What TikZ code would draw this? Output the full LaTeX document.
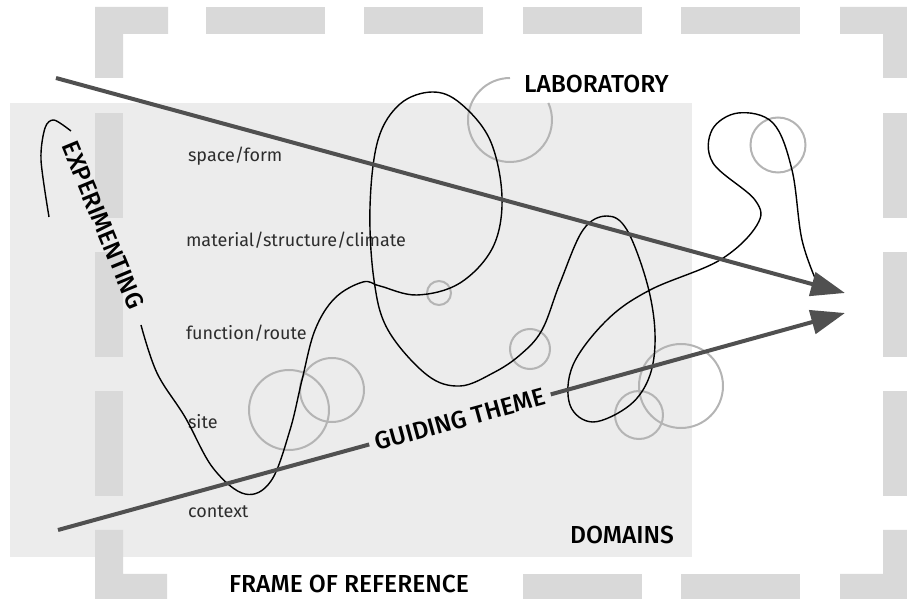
\documentclass[tikz,border=0pt]{standalone}
\usepackage{fontspec}
\setmainfont{Fira Sans}
\newfontfamily\capsfont{Fira Sans Medium}
\usetikzlibrary{arrows.meta}
\definecolor{boxgray}{RGB}{236,236,236}
\definecolor{framegray}{RGB}{217,217,217}
\definecolor{ringgray}{RGB}{180,180,180}
\definecolor{axisgray}{RGB}{80,80,80}
\definecolor{textgray}{RGB}{45,45,45}

\begin{document}
\begin{tikzpicture}[x=0.5pt, y=-0.5pt,
  caps/.style={font=\capsfont\fontsize{12.3}{14}\selectfont, text=black},
  area/.style={font=\fontsize{9}{11}\selectfont, text=textgray, anchor=west},
  ring/.style={draw=ringgray, line width=1pt},
  trail/.style={draw=black, line width=0.7pt},
  axis/.style={draw=axisgray, line width=2pt},
  tip/.style={-{Triangle[length=17pt, width=12pt]}},
]
\useasboundingbox (0,0) rectangle (907,599);

% domains
\fill[boxgray] (10,103) rectangle (692,557);

% frame of reference
\fill[framegray] (95,7) -- (168,7) -- (168,34) -- (123,34) -- (123,78) -- (95,78) -- cycle;
\fill[framegray] (840,7) -- (907,7) -- (907,78) -- (883,78) -- (883,34) -- (840,34) -- cycle;
\fill[framegray] (95,530) -- (123,530) -- (123,574) -- (167,574) -- (167,599) -- (95,599) -- cycle;
\fill[framegray] (883,530) -- (907,530) -- (907,599) -- (840,599) -- (840,574) -- (883,574) -- cycle;
\foreach \x in {206,364,523,681} { \fill[framegray] (\x,7) rectangle ++(119,27); }
\foreach \x in {523,681} { \fill[framegray] (\x,574) rectangle ++(119,25); }
\foreach \y in {113,252,391} {
  \fill[framegray] (95,\y) rectangle ++(28,105);
  \fill[framegray] (883,\y) rectangle ++(24,105);
}

% captions
\node[caps, anchor=west] (lab) at (517,84) {LABORATORY};
\node[caps, anchor=east] (dom) at (681,535) {DOMAINS};
\node[caps] (frame) at (349,584) {FRAME OF REFERENCE};
\node[caps, rotate=-67.6] (exper) at (103,225) {EXPERIMENTING};

\node[area] (form) at (181,156) {space/form};
\node[area] (material) at (179,240) {material/structure/climate};
\node[area] (route) at (179,333) {function/route};
\node[area] (site) at (181,422) {site};
\node[area] (context) at (181,512) {context};

% rings
\draw[ring] (510,78) arc[start angle=90, end angle=384, radius=21pt];
\draw[ring] (778,145) circle[radius=13.75pt];
\draw[ring] (439,293) circle[radius=6pt];
\draw[ring] (530,349) circle[radius=10pt];
\draw[ring] (681,386) circle[radius=21pt];
\draw[ring] (639,415) circle[radius=12pt];
\draw[ring] (289,410) circle[radius=20pt];
\draw[ring] (332,390) circle[radius=16pt];

% the path of the design
\draw[trail] plot[smooth] coordinates {(49,217) (41,160) (45,128) (54,120) (71,131)};
\draw[trail] plot[smooth, tension=0.6] coordinates {(141,325) (157,373) (185,417)
  (213,468) (245,494) (271,481) (290,430) (302,380) (315,330) (335,298) (363,282)
  (380,286) (417,295) (460,283) (493,247) (502,197) (490,140) (460,103) (432,92)
  (400,104) (378,140) (370,207) (374,280) (388,330) (427,375) (460,386) (493,373)
  (520,355) (542,330) (560,283) (583,230) (607,216) (627,230) (647,283) (655,333)
  (650,375) (630,405) (593,422) (570,405) (573,365) (607,320) (650,290) (720,260)
  (757,225) (755,200) (713,163) (712,130) (738,113) (773,123) (792,170) (802,240)
  (818,285)};

% arrows
\coordinate (upstart) at (56,78);
\coordinate (upend) at (845,293);
\coordinate (lowstart) at (58,530);
\coordinate (lowend) at (845,313);
\draw[axis, tip] (upstart) -- (upend);
\node[caps, rotate=15.4, inner sep=3pt] (guide) at (460,419.5) {GUIDING THEME};
\draw[axis] (lowstart) -- (guide);
\draw[axis, tip] (guide) -- (lowend);
\end{tikzpicture}
\end{document}
